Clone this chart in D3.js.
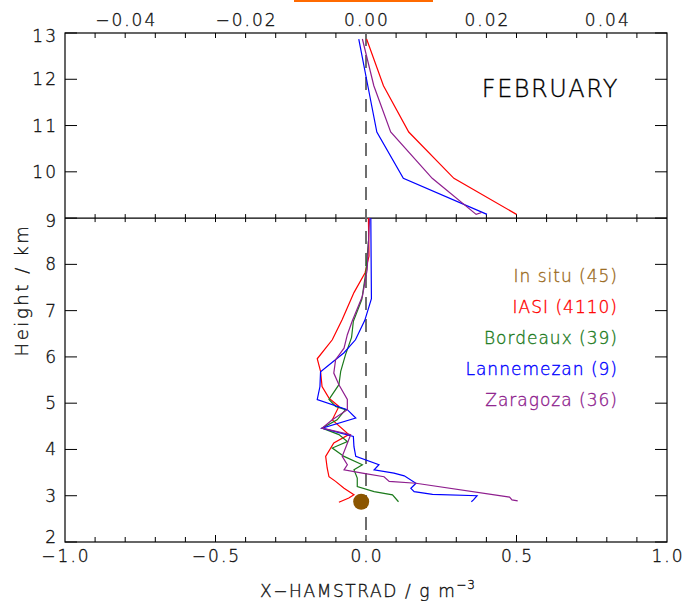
<!DOCTYPE html>
<meta charset="utf-8" />
<script src="https://d3js.org/d3.v7.min.js"></script>
<style>
  body { margin: 0; background: #fff; }
  text { font-family: "DejaVu Sans", sans-serif; font-weight: 200; letter-spacing: 1px; stroke-width: 0.35px; }
</style>
<body>
<div id="my_dataviz"></div>
<script>
  // top panel profiles (upper axis, g m-3), [value, height km]
  var iasiTop = [[0.0001, 12.87], [0.0029, 11.86], [0.0071, 10.86], [0.0146, 9.86], [0.025, 9.08]];
  var lannTop = [[-0.0012, 12.87], [0.0003, 11.86], [0.0018, 10.86], [0.0062, 9.86], [0.0201, 9.08]];
  var zaraTop = [[-0.0006, 12.87], [0.0013, 11.86], [0.0041, 10.86], [0.011, 9.86], [0.0183, 9.08], [0.0192, 9.12]];

  // bottom panel profiles (lower axis)
  var iasiLow = [[0.008, 9.0], [0.010, 8.18], [-0.003, 7.82], [-0.040, 7.39], [-0.079, 6.81], [-0.112, 6.37],
    [-0.162, 5.96], [-0.151, 5.69], [-0.146, 5.36], [-0.123, 5.11], [-0.090, 4.93], [-0.112, 4.64],
    [-0.057, 4.32], [-0.107, 4.14], [-0.134, 3.85], [-0.129, 3.60], [-0.123, 3.41], [-0.101, 3.31],
    [-0.073, 3.16], [-0.040, 3.02], [-0.057, 2.95], [-0.090, 2.86]];
  var bordLow = [[0.008, 8.5], [0.0, 7.85], [-0.014, 7.24], [-0.042, 6.77], [-0.048, 6.42], [-0.068, 6.05],
    [-0.084, 5.69], [-0.090, 5.40], [-0.123, 5.08], [-0.101, 4.93], [-0.068, 4.86], [-0.096, 4.64],
    [-0.146, 4.46], [-0.090, 4.32], [-0.062, 4.17], [-0.112, 4.03], [-0.073, 3.85], [-0.012, 3.67],
    [-0.040, 3.56], [-0.029, 3.38], [-0.029, 3.20], [0.027, 3.09], [0.088, 3.02], [0.108, 2.87]];
  var lannLow = [[0.016, 9.0], [0.018, 7.26], [-0.004, 6.79], [-0.035, 6.37], [-0.073, 6.09], [-0.151, 5.68],
    [-0.153, 5.36], [-0.162, 5.08], [-0.062, 4.86], [-0.034, 4.68], [-0.146, 4.46], [-0.042, 4.28],
    [-0.040, 4.06], [-0.034, 3.85], [0.043, 3.67], [0.027, 3.56], [0.093, 3.49], [0.127, 3.43],
    [0.166, 3.27], [0.149, 3.16], [0.160, 3.09], [0.221, 3.03], [0.369, 3.00], [0.357, 2.91], [0.350, 2.87]];
  var zaraLow = [[0.012, 9.0], [0.004, 7.89], [-0.012, 7.31], [-0.046, 6.77], [-0.062, 6.48], [-0.073, 6.19],
    [-0.101, 5.94], [-0.107, 5.65], [-0.090, 5.40], [-0.062, 5.08], [-0.062, 4.86], [-0.112, 4.64],
    [-0.146, 4.46], [-0.051, 4.32], [-0.068, 4.03], [-0.079, 3.85], [-0.062, 3.67], [-0.073, 3.56],
    [-0.012, 3.49], [0.060, 3.41], [0.077, 3.31], [0.166, 3.27], [0.477, 2.97], [0.485, 2.91], [0.504, 2.89]];
  var inSitu = [[-0.016, 2.87]];

  var legendLabels = ["In situ (45)", "IASI (4110)", "Bordeaux (39)", "Lannemezan (9)", "Zaragoza (36)"];
  var legendColors = ["#9a6a1c", "#ff0000", "#1b7a1b", "#0000ff", "#8e1e8e"];

  var bottomTicks = [-1.0, -0.5, 0.0, 0.5, 1.0];
  var topTicks = [-0.04, -0.02, 0.0, 0.02, 0.04];
  var heightTicksTop = [10, 11, 12, 13];
  var heightTicksLow = [2, 3, 4, 5, 6, 7, 8, 9];

  var width = 685, height = 601;
  var boxLeft = 65, boxRight = 667, boxTop = 33, boxBottom = 542;

  var svg = d3.select("#my_dataviz").append("svg")
    .attr("width", width).attr("height", height);

  var x = d3.scaleLinear().domain([-1, 1]).range([boxLeft, boxRight]);
  var xTop = d3.scaleLinear().domain([-0.05, 0.05]).range([boxLeft, boxRight]);
  var y = d3.scaleLinear().domain([2, 13]).range([boxBottom, boxTop]);
  var mid = y(9);

  // orange mark cut at the top of the picture
  svg.append("rect").attr("x", 294).attr("y", 0).attr("width", 139).attr("height", 2).attr("fill", "#ff6a00");

  // frames
  svg.append("rect").attr("x", boxLeft).attr("y", boxTop).attr("width", boxRight - boxLeft).attr("height", boxBottom - boxTop)
    .attr("fill", "none").attr("stroke", "#000").attr("stroke-width", 1.2);
  svg.append("line").attr("x1", boxLeft).attr("x2", boxRight).attr("y1", mid).attr("y2", mid)
    .attr("stroke", "#000").attr("stroke-width", 1.2);

  var g = svg.append("g").attr("stroke", "#000").attr("stroke-width", 1);

  // x ticks (every 0.1 bottom = every 0.005 top)
  var xt = d3.range(-0.9, 0.95, 0.1);
  xt.forEach(function (v) {
    var px = x(v);
    var major = Math.abs(Math.round(v * 10) % 5) === 0;
    var len = major ? 7 : 5;
    g.append("line").attr("x1", px).attr("x2", px).attr("y1", boxBottom).attr("y2", boxBottom - len);
    g.append("line").attr("x1", px).attr("x2", px).attr("y1", mid).attr("y2", mid + 4);
    g.append("line").attr("x1", px).attr("x2", px).attr("y1", mid).attr("y2", mid - 4);
    g.append("line").attr("x1", px).attr("x2", px).attr("y1", boxTop).attr("y2", boxTop + 5);
  });

  // y ticks
  heightTicksTop.concat(heightTicksLow).forEach(function (h) {
    g.append("line").attr("x1", boxLeft).attr("x2", boxLeft + 12).attr("y1", y(h)).attr("y2", y(h));
    g.append("line").attr("x1", boxRight).attr("x2", boxRight - 12).attr("y1", y(h)).attr("y2", y(h));
  });

  // zero line
  svg.append("line").attr("x1", x(0)).attr("x2", x(0)).attr("y1", boxTop).attr("y2", boxBottom)
    .attr("stroke", "#6e6e6e").attr("stroke-width", 2).attr("stroke-dasharray", "13,9");

  // labels
  svg.selectAll("text.bx").data(bottomTicks).enter().append("text")
    .attr("x", function (d) { return x(d) + 1; }).attr("y", 562)
    .attr("text-anchor", "middle").attr("font-size", 17).attr("fill", "#111").attr("stroke", "#111")
    .style("letter-spacing", "2px")
    .text(function (d) { return d3.format(".1f")(d).replace("-", "\u2212"); });
  svg.selectAll("text.tx").data(topTicks).enter().append("text")
    .attr("x", function (d) { return xTop(d) + 1; }).attr("y", 26)
    .attr("text-anchor", "middle").attr("font-size", 17).attr("fill", "#111").attr("stroke", "#111")
    .style("letter-spacing", "2px")
    .text(function (d) { return d3.format(".2f")(d).replace("-", "\u2212"); });
  svg.selectAll("text.yl").data([2, 3, 4, 5, 6, 7, 8, 9, 10, 11, 12, 13]).enter().append("text")
    .attr("x", 58).attr("y", function (d) { return y(d) + 6 + (d === 9 || d === 13 ? 3 : 0) - (d === 2 ? 5 : 0); })
    .attr("text-anchor", "end").attr("font-size", 17).attr("fill", "#111").attr("stroke", "#111")
    .style("letter-spacing", "2px")
    .text(function (d) { return d; });

  svg.append("text").attr("transform", "translate(28,290) rotate(-90)")
    .attr("text-anchor", "middle").attr("font-size", 18).attr("fill", "#111").attr("stroke", "#111")
    .style("letter-spacing", "2.6px").text("Height / km");
  var xt2 = svg.append("text").attr("x", 368).attr("y", 597).attr("text-anchor", "middle")
    .attr("font-size", 17).attr("fill", "#111").attr("stroke", "#111").style("letter-spacing", "1.6px");
  xt2.append("tspan").text("X\u2212HAMSTRAD / g m");
  xt2.append("tspan").attr("dy", -8).attr("font-size", 12).style("letter-spacing", "1px").text("\u22123");

  svg.append("text").attr("x", 619).attr("y", 97).attr("text-anchor", "end")
    .attr("font-size", 24).attr("fill", "#000").attr("stroke", "#000").style("letter-spacing", "1.5px").text("FEBRUARY");

  // profiles
  var lineTop = d3.line().x(function (d) { return xTop(d[0]); }).y(function (d) { return y(d[1]); });
  var lineLow = d3.line().x(function (d) { return x(d[0]); }).y(function (d) { return y(d[1]); });

  [[iasiTop, legendColors[1]], [lannTop, legendColors[3]], [zaraTop, legendColors[4]]].forEach(function (s) {
    svg.append("path").datum(s[0]).attr("d", lineTop).attr("fill", "none")
      .attr("stroke", s[1]).attr("stroke-width", 1.2);
  });
  [[iasiLow, legendColors[1]], [bordLow, legendColors[2]], [lannLow, legendColors[3]], [zaraLow, legendColors[4]]].forEach(function (s) {
    svg.append("path").datum(s[0]).attr("d", lineLow).attr("fill", "none")
      .attr("stroke", s[1]).attr("stroke-width", 1.2);
  });

  svg.selectAll("circle.insitu").data(inSitu).enter().append("circle")
    .attr("cx", function (d) { return x(d[0]); }).attr("cy", function (d) { return y(d[1]); })
    .attr("r", 8).attr("fill", "#8b5500");

  // legend
  svg.selectAll("text.leg").data(legendLabels).enter().append("text")
    .attr("x", 618).attr("y", function (d, i) { return 282 + i * 31; })
    .attr("text-anchor", "end").attr("font-size", 17)
    .attr("fill", function (d, i) { return legendColors[i]; })
    .attr("stroke", function (d, i) { return legendColors[i]; })
    .text(function (d) { return d; });
</script>
</body>
